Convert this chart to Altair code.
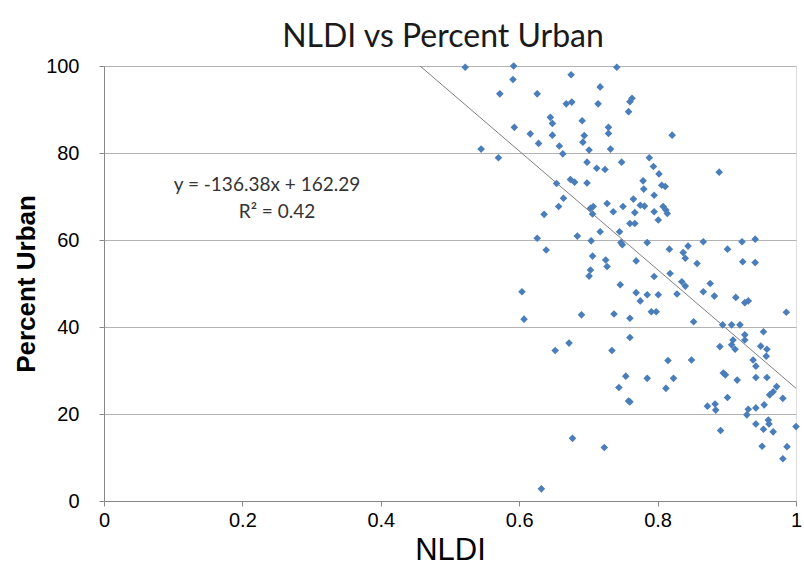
import altair as alt
import pandas as pd

# NLDI (x) and percent urban (y) for each observation
nldi = [
    0.522, 0.592, 0.741, 0.591, 0.675, 0.572, 0.626, 0.717, 0.763, 0.760,
    0.758, 0.668, 0.676, 0.714, 0.645, 0.648, 0.691, 0.593, 0.616, 0.648,
    0.628, 0.694, 0.692, 0.729, 0.729, 0.658, 0.663, 0.701, 0.732, 0.545,
    0.570, 0.698, 0.748, 0.712, 0.724, 0.654, 0.674, 0.680, 0.698, 0.664,
    0.657, 0.636, 0.703, 0.706, 0.707, 0.727, 0.736, 0.750, 0.765, 0.767,
    0.760, 0.767, 0.717, 0.745, 0.626, 0.684, 0.704, 0.749, 0.747, 0.639,
    0.706, 0.725, 0.727, 0.769, 0.703, 0.701,
    0.821, 0.788, 0.794, 0.802, 0.889, 0.779, 0.806, 0.811, 0.780, 0.795,
    0.775, 0.781, 0.808, 0.812, 0.814, 0.795, 0.801, 0.785, 0.817, 0.837,
    0.840, 0.844, 0.866, 0.857, 0.901, 0.922, 0.941, 0.923, 0.941, 0.818,
    0.795,
    0.835, 0.840, 0.876, 0.769, 0.775, 0.785, 0.801, 0.828, 0.866, 0.882,
    0.913, 0.926, 0.931, 0.791, 0.798, 0.986, 0.760, 0.852, 0.894, 0.907,
    0.919, 0.953, 0.760, 0.909, 0.907, 0.912, 0.926, 0.926, 0.890, 0.949,
    0.958, 0.957, 0.938, 0.942, 0.815, 0.849, 0.895, 0.898, 0.785, 0.823,
    0.812, 0.915, 0.942, 0.958, 0.972, 0.967, 0.962, 0.981, 0.760, 0.901,
    0.872, 0.883, 0.884, 0.931, 0.929, 0.942, 0.954, 0.942, 0.960, 0.961,
    0.953, 0.967, 0.891, 1.000, 0.951, 0.987, 0.981,
    0.604, 0.607, 0.690, 0.737, 0.746, 0.672, 0.652, 0.734, 0.754, 0.744,
    0.758, 0.677, 0.723, 0.632,
]
pct_urban = [
    99.7, 100.0, 99.7, 96.9, 98.0, 93.6, 93.6, 95.2, 92.6, 91.8,
    89.5, 91.3, 91.7, 91.3, 88.2, 86.8, 87.4, 85.9, 84.4, 84.1,
    82.2, 84.0, 82.5, 85.9, 84.5, 81.6, 79.8, 80.7, 80.9, 80.9,
    78.9, 77.9, 77.9, 76.5, 76.2, 73.0, 73.9, 73.3, 73.1, 69.6,
    67.7, 65.9, 67.3, 66.0, 67.7, 68.4, 66.5, 67.7, 69.4, 66.3,
    63.8, 63.8, 61.9, 61.9, 60.4, 60.9, 59.8, 58.9, 59.4, 57.7,
    56.3, 55.4, 53.9, 55.2, 53.1, 51.7,
    84.1, 78.9, 76.9, 75.2, 75.6, 73.6, 72.6, 72.3, 71.7, 70.3,
    68.0, 67.8, 67.7, 66.9, 66.1, 66.5, 64.6, 59.4, 57.9, 57.1,
    55.8, 58.6, 59.6, 54.6, 57.9, 59.6, 60.2, 55.0, 54.8, 52.3,
    51.6,
    50.4, 49.4, 50.0, 47.9, 46.0, 47.4, 47.4, 47.6, 48.1, 47.1,
    46.8, 45.6, 46.0, 43.5, 43.5, 43.4, 42.0, 41.2, 40.5, 40.5,
    40.5, 38.9, 37.6, 37.0, 35.9, 34.9, 38.2, 37.0, 35.5, 35.6,
    34.9, 33.3, 32.4, 31.0, 32.3, 32.4, 29.4, 29.0, 28.2, 28.2,
    25.9, 27.8, 28.4, 28.4, 26.3, 25.1, 24.4, 23.6, 22.8, 23.8,
    21.8, 22.3, 20.9, 21.1, 19.8, 21.4, 22.1, 17.7, 18.6, 17.7,
    16.5, 15.9, 16.2, 17.1, 12.6, 12.5, 9.7,
    48.1, 41.8, 42.8, 43.0, 49.7, 36.3, 34.6, 34.6, 28.7, 26.1,
    23.0, 14.4, 12.3, 2.8,
]

# Linear trend line  y = slope * x + intercept
slope = -136.38
intercept = 162.29
r_squared = 0.42

# Equation annotation placement (data units)
eq_x = [0.2355, 0.25]
eq_y = [72.6, 66.4]
eq_text = [f"y = {slope}x + {intercept}", f"R² = {r_squared}"]

points = pd.DataFrame({"NLDI": nldi, "Percent Urban": pct_urban})

x_start = (100 - intercept) / slope
trend = pd.DataFrame({"NLDI": [x_start, 1.0]})
trend["Percent Urban"] = slope * trend["NLDI"] + intercept

notes = pd.DataFrame({"x": eq_x, "y": eq_y, "label": eq_text})

x_scale = alt.Scale(domain=[0, 1], nice=False, zero=True)
y_scale = alt.Scale(domain=[0, 100], nice=False)

x_axis = alt.Axis(
    values=[0, 0.2, 0.4, 0.6, 0.8, 1],
    labelExpr="datum.value == 0 ? '0' : datum.value == 1 ? '1' : format(datum.value, '.1f')",
    grid=False, title="NLDI", titleFontSize=31, titleFontWeight="normal",
    titlePadding=5, labelFontSize=20, labelPadding=4, tickSize=5,
    labelFlush=False,
)
y_axis = alt.Axis(
    values=[0, 20, 40, 60, 80, 100], grid=True, gridColor="#b3b3b3",
    title="Percent Urban", titleFontSize=26, titleFontWeight="bold",
    titlePadding=6, labelFontSize=20, labelPadding=20, tickSize=5,
)

scatter = alt.Chart(points).mark_point(
    shape="diamond", filled=True, size=58, color="#4a7ebb", opacity=1
).encode(
    x=alt.X("NLDI:Q", scale=x_scale, axis=x_axis),
    y=alt.Y("Percent Urban:Q", scale=y_scale, axis=y_axis),
)

line = alt.Chart(trend).mark_line(color="#7f7f7f", strokeWidth=1).encode(
    x=alt.X("NLDI:Q", scale=x_scale),
    y=alt.Y("Percent Urban:Q", scale=y_scale),
)

labels = alt.Chart(notes).mark_text(
    fontSize=19, color="#333333", align="center", font="Lato"
).encode(
    x=alt.X("x:Q", scale=x_scale),
    y=alt.Y("y:Q", scale=y_scale),
    text="label:N",
)

chart = alt.layer(line, scatter, labels).properties(
    width=692,
    height=435,
    title=alt.TitleParams("NLDI vs Percent Urban", fontSize=32, fontWeight="normal",
                          font="Lato", color="#1a1a1a", offset=2, dx=-7),
    autosize=alt.AutoSizeParams(type="none"),
    padding={"left": 104, "top": 66, "right": 8, "bottom": 68},
).configure_view(
    stroke="#3a3a3a", strokeWidth=1.5
).configure_axis(
    labelFont="Lato", titleFont="Lato", labelColor="#404040", titleColor="#111111",
    domainColor="#3a3a3a", tickColor="#3a3a3a", domainWidth=1.5,
).configure(background="white")

chart.save("out.html", embed_options={"renderer": "svg", "actions": False})
